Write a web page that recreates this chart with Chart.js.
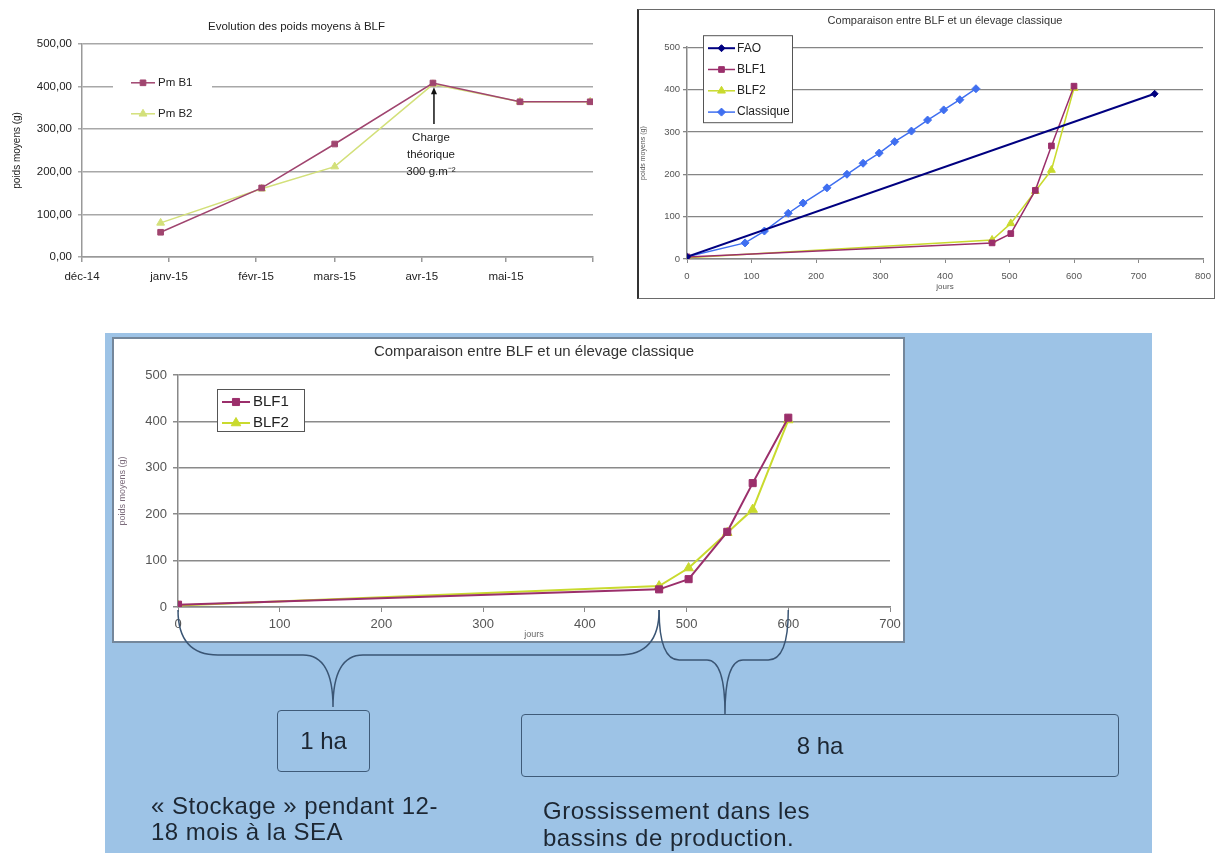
<!DOCTYPE html>
<html lang="fr">
<head>
<meta charset="utf-8">
<title>Poids moyens BLF</title>
<script src="https://cdn.jsdelivr.net/npm/chart.js@4.4.1/dist/chart.umd.min.js"></script>
<style>
  html, body { margin: 0; padding: 0; }
  body { width: 1216px; height: 853px; position: relative; overflow: hidden; background: #fff;
         font-family: 'Liberation Sans', Arial, sans-serif; }
  .abs { position: absolute; }
  canvas { display: block; }
  #wrap1 { left: 0; top: 0; width: 610px; height: 300px; }
  #wrap2 { left: 637px; top: 9px; width: 575px; height: 288px; border: 1px solid #6a6a6a; border-left: 2px solid #333; background: #fff; }
  #panel { left: 105px; top: 333px; width: 1047px; height: 520px; background: #9dc3e6; }
  #wrap3 { left: 112px; top: 337px; width: 789px; height: 302px; border: 2px solid #74879b; background: #fff; }
  #braces { left: 0; top: 0; width: 1216px; height: 853px; pointer-events: none; }
  .area { border: 1.5px solid #3f5b79; border-radius: 4px; box-sizing: border-box; display: flex;
          align-items: center; justify-content: center; font-size: 24px; color: #1d2733; }
  .note { font-size: 24px; letter-spacing: 0.5px; color: #1d2733; white-space: nowrap; }
</style>
</head>
<body>
<div id="wrap1" class="abs"><canvas id="c1" width="610" height="300"></canvas></div>
<div id="wrap2" class="abs"><canvas id="c2" width="575" height="288"></canvas></div>
<div id="panel" class="abs"></div>
<div id="wrap3" class="abs"><canvas id="c3" width="789" height="302"></canvas></div>
<svg id="braces" class="abs" xmlns="http://www.w3.org/2000/svg"></svg>
<div class="abs area" style="left:277px;top:710px;width:93px;height:62px;">1 ha</div>
<div class="abs area" style="left:521px;top:714px;width:598px;height:63px;">8 ha</div>
<div class="abs note" style="left:151px;top:793px;line-height:26px;">« Stockage » pendant 12-<br>18 mois à la SEA</div>
<div class="abs note" style="left:543px;top:797px;line-height:27px;">Grossissement dans les<br>bassins de production.</div>

<script>
// ---- Evolution des poids moyens (dates of weighing, grams) ----
const monthStarts = ['2014-12-01', '2015-01-01', '2015-02-01', '2015-03-01', '2015-04-01', '2015-05-01', '2015-06-01'];
const monthLabels = ['déc-14', 'janv-15', 'févr-15', 'mars-15', 'avr-15', 'mai-15', ''];
const weighDates  = ['2014-12-29', '2015-02-03', '2015-03-01', '2015-04-05', '2015-05-06', '2015-05-31'];
const pmB1 = [58, 162, 265, 408, 364, 364];
const pmB2 = [80, 160, 212, 405, 364, 364];
const chargeDate = '2015-04-05';
const chargeArrow = [312, 398];
const chargeText = ['Charge', 'théorique', '300 g.m\u207B\u00B2'];

// ---- Comparaison BLF / élevage classique (jours, grams) ----
const blfDays = [0, 473, 502, 540, 565, 600];
const blf1 = [5, 38, 60, 162, 267, 408];
const blf2 = [3, 45, 84, 160, 210, 403];
const faoDays = [0, 725];
const fao = [5, 390];
const classiqueDays = [0, 90, 120, 157, 180, 217, 248, 273, 298, 322, 348, 373, 398, 423, 448];
const classique = [5, 38, 66, 108, 132, 168, 200, 226, 250, 277, 302, 328, 352, 376, 402];

// Periods bracketed under the lower chart (jours)
const periodBounds = [0, 473, 600];

Chart.defaults.font.family = "'Liberation Sans', Arial, sans-serif";
Chart.defaults.color = '#333';

const DAY = 86400000;
const origin = Date.parse(monthStarts[0]);
const toDay = d => (Date.parse(d) - origin) / DAY;
const monthDays = monthStarts.map(toDay);

const C_B1 = '#9b2f6b';
const C_B2 = '#c9da2e';
const C_FAO = '#000080';
const C_CLASS = '#3f6ff0';

function series(label, xs, ys, color, style, radius, width, fill) {
  return {
    label,
    data: xs.map((x, i) => ({ x, y: ys[i] })),
    borderColor: color,
    backgroundColor: fill || color,
    pointBackgroundColor: fill || color,
    pointBorderColor: color,
    pointStyle: style,
    pointRadius: radius,
    pointHoverRadius: radius,
    pointBorderWidth: 1,
    borderWidth: width,
    tension: 0
  };
}

// Pin axis sizes so the plot area lands where wanted
function fixAxis(size, horizontal) {
  return scale => {
    if (horizontal) { scale.height = size; scale.paddingLeft = 0; scale.paddingRight = 0; }
    else { scale.width = size; scale.paddingTop = 0; scale.paddingBottom = 0; }
  };
}

// Legend drawn inside the plot area, with a white background
const insetLegend = {
  id: 'insetLegend',
  afterDraw(chart, args, o) {
    const { ctx, chartArea } = chart;
    const x0 = chartArea.left + o.dx, y0 = chartArea.top + o.dy;
    ctx.save();
    ctx.fillStyle = '#fff';
    ctx.fillRect(x0, y0, o.w, o.h);
    if (o.border) {
      ctx.strokeStyle = o.border; ctx.lineWidth = 1;
      ctx.strokeRect(x0 + 0.5, y0 + 0.5, o.w - 1, o.h - 1);
    }
    chart.data.datasets.forEach((ds, i) => {
      const y = y0 + o.rowTop + i * o.rowGap;
      const lx = x0 + o.lineX;
      ctx.strokeStyle = ds.borderColor; ctx.lineWidth = ds.borderWidth;
      ctx.beginPath(); ctx.moveTo(lx, y); ctx.lineTo(lx + o.lineLen, y); ctx.stroke();
      ctx.fillStyle = ds.pointBackgroundColor; ctx.strokeStyle = ds.pointBorderColor; ctx.lineWidth = 1;
      Chart.helpers.drawPoint(ctx, { pointStyle: ds.pointStyle, radius: ds.pointRadius, borderWidth: 1, rotation: 0 }, lx + o.lineLen / 2, y);
      ctx.fillStyle = o.color; ctx.font = o.font; ctx.textBaseline = 'middle'; ctx.textAlign = 'left';
      ctx.fillText(ds.label, x0 + o.textX, y);
    });
    ctx.restore();
  }
};

// Arrow + caption pointing at the theoretical load date
const chargeNote = {
  id: 'chargeNote',
  afterDraw(chart, args, o) {
    const { ctx, scales: { x, y } } = chart;
    const px = x.getPixelForValue(toDay(o.date)) + 1;
    const yTail = y.getPixelForValue(o.from), yTip = y.getPixelForValue(o.to);
    ctx.save();
    ctx.strokeStyle = '#111'; ctx.fillStyle = '#111'; ctx.lineWidth = 1.5;
    ctx.beginPath(); ctx.moveTo(px, yTail); ctx.lineTo(px, yTip + 5); ctx.stroke();
    ctx.beginPath(); ctx.moveTo(px, yTip); ctx.lineTo(px - 3, yTip + 7); ctx.lineTo(px + 3, yTip + 7); ctx.closePath(); ctx.fill();
    ctx.font = '11.5px "Liberation Sans", Arial, sans-serif';
    ctx.textAlign = 'center'; ctx.textBaseline = 'middle'; ctx.fillStyle = '#222';
    o.lines.forEach((t, i) => ctx.fillText(t, px - 3, yTail + 14 + i * 17));
    ctx.restore();
  }
};

// ---------- Chart 1 ----------
new Chart(document.getElementById('c1'), {
  type: 'line',
  data: {
    datasets: [
      series('Pm B1', weighDates.map(toDay), pmB1, '#a0456f', 'rect', 4, 1.5),
      series('Pm B2', weighDates.map(toDay), pmB2, '#d3e07a', 'triangle', 4.5, 1.5)
    ]
  },
  plugins: [insetLegend, chargeNote],
  options: {
    responsive: false, animation: false, events: [],
    layout: { padding: { left: 0, right: 17, top: 0, bottom: 0 } },
    plugins: {
      legend: { display: false }, tooltip: { enabled: false },
      title: { display: true, text: 'Evolution des poids moyens à BLF', color: '#222',
               font: { size: 11.5, weight: 'normal' }, padding: { top: 20, bottom: 10 } },
      insetLegend: { dx: 31, dy: 26, w: 99, h: 58, rowTop: 13, rowGap: 31, lineX: 18, lineLen: 24, textX: 45,
                     font: '11.5px "Liberation Sans", Arial, sans-serif', color: '#222' },
      chargeNote: { date: chargeDate, from: chargeArrow[0], to: chargeArrow[1], lines: chargeText }
    },
    scales: {
      x: {
        type: 'linear', min: monthDays[0], max: monthDays[monthDays.length - 1],
        afterBuildTicks: s => { s.ticks = monthDays.map(v => ({ value: v })); },
        ticks: { callback: (v, i) => monthLabels[i], autoSkip: false, maxRotation: 0, font: { size: 11.5 }, padding: 8, color: '#222' },
        grid: { drawOnChartArea: false, tickLength: 5, color: '#999', lineWidth: 1.5 },
        border: { color: '#999', width: 1.5 },
        afterFit: fixAxis(43, true)
      },
      y: {
        min: 0, max: 500,
        ticks: { stepSize: 100, callback: v => v.toFixed(2).replace('.', ','), font: { size: 11.5 }, padding: 6, color: '#222' },
        grid: { color: '#a8a8a8', lineWidth: 1.5, tickLength: 4 },
        border: { color: '#999', width: 1.5 },
        title: { display: true, text: 'poids moyens (g)', font: { size: 10 }, padding: { top: 11, bottom: 0 }, color: '#222' },
        afterFit: fixAxis(82, false)
      }
    }
  }
});

// ---------- Chart 2 ----------
new Chart(document.getElementById('c2'), {
  type: 'line',
  data: {
    datasets: [
      series('FAO', faoDays, fao, C_FAO, 'rectRot', 3.5, 2),
      series('BLF1', blfDays, blf1, C_B1, 'rect', 4, 1.5),
      series('BLF2', blfDays, blf2, C_B2, 'triangle', 4.5, 1.5),
      series('Classique', classiqueDays, classique, C_CLASS, 'rectRot', 4, 1.5)
    ]
  },
  plugins: [insetLegend],
  options: {
    responsive: false, animation: false, events: [],
    layout: { padding: { left: 0, right: 11, top: 0, bottom: 0 } },
    plugins: {
      legend: { display: false }, tooltip: { enabled: false },
      title: { display: true, fullSize: false, text: 'Comparaison entre BLF et un élevage classique', color: '#333',
               font: { size: 11, weight: 'normal' }, padding: { top: 4, bottom: 20 } },
      insetLegend: { dx: 16, dy: -12, w: 90, h: 88, rowTop: 13, rowGap: 21.3, lineX: 5, lineLen: 27, textX: 34,
                     border: '#555', font: '12px "Liberation Sans", Arial, sans-serif', color: '#222' }
    },
    scales: {
      x: {
        type: 'linear', min: 0, max: 800,
        ticks: { stepSize: 100, font: { size: 9.5 }, padding: 8, color: '#555', maxRotation: 0 },
        grid: { drawOnChartArea: false, tickLength: 4, color: '#888' },
        border: { color: '#888', width: 1.5 },
        title: { display: true, text: 'jours', font: { size: 8 }, padding: { top: 0, bottom: 6 }, color: '#555' },
        afterFit: fixAxis(39, true)
      },
      y: {
        min: 0, max: 500,
        ticks: { stepSize: 100, font: { size: 9.5 }, padding: 3, color: '#555' },
        grid: { color: '#858585', lineWidth: 1.3, tickLength: 4 },
        border: { color: '#888', width: 1.5 },
        title: { display: true, text: 'poids moyens (g)', font: { size: 7 }, padding: { top: 0, bottom: 0 }, color: '#555' },
        afterFit: fixAxis(48, false)
      }
    }
  }
});

// ---------- Chart 3 ----------
const chart3 = new Chart(document.getElementById('c3'), {
  type: 'line',
  data: {
    datasets: [
      series('BLF1', blfDays, blf1, C_B1, 'rect', 5, 2),
      series('BLF2', blfDays, blf2, C_B2, 'triangle', 5.5, 2)
    ]
  },
  plugins: [insetLegend],
  options: {
    responsive: false, animation: false, events: [],
    layout: { padding: { left: 0, right: 13, top: 0, bottom: 0 } },
    plugins: {
      legend: { display: false }, tooltip: { enabled: false },
      title: { display: true, fullSize: false, text: 'Comparaison entre BLF et un élevage classique', color: '#333',
               font: { size: 15, weight: 'normal' }, padding: { top: 4, bottom: 14 } },
      insetLegend: { dx: 39, dy: 14, w: 88, h: 43, rowTop: 13, rowGap: 21, lineX: 5, lineLen: 28, textX: 36,
                     border: '#555', font: '15px "Liberation Sans", Arial, sans-serif', color: '#222' }
    },
    scales: {
      x: {
        type: 'linear', min: 0, max: 700,
        ticks: { stepSize: 100, font: { size: 13 }, padding: 5, color: '#555', maxRotation: 0 },
        grid: { drawOnChartArea: false, tickLength: 5, color: '#888' },
        border: { color: '#888', width: 1.5 },
        title: { display: true, text: 'jours', font: { size: 9 }, padding: { top: 0, bottom: 1 }, color: '#666' },
        afterFit: fixAxis(34, true)
      },
      y: {
        min: 0, max: 500,
        ticks: { stepSize: 100, font: { size: 13 }, padding: 6, color: '#555' },
        grid: { color: '#8a8a8a', lineWidth: 1.5, tickLength: 5 },
        border: { color: '#888', width: 1.5 },
        title: { display: true, text: 'poids moyens (g)', font: { size: 9 }, padding: { top: 3, bottom: 0 }, color: '#7a6a7a' },
        afterFit: fixAxis(64, false)
      }
    }
  }
});

// ---------- Braces linking the periods to their areas ----------
(function drawBraces() {
  const rect = chart3.canvas.getBoundingClientRect();
  const sx = chart3.scales.x, sy = chart3.scales.y;
  const px = v => rect.left + sx.getPixelForValue(v);
  const yTop = rect.top + sy.getPixelForValue(0) + 3;
  function bracePath(xa, xb, yt, ym, xc, yc, re, rc) {
    return `M${xa},${yt} Q${xa},${ym} ${xa + re},${ym} L${xc - rc},${ym} Q${xc},${ym} ${xc},${yc} ` +
           `Q${xc},${ym} ${xc + rc},${ym} L${xb - re},${ym} Q${xb},${ym} ${xb},${yt}`;
  }
  const braces = [
    { a: periodBounds[0], b: periodBounds[1], ym: 655, xc: 333, yc: 707, re: 40, rc: 30 },
    { a: periodBounds[1], b: periodBounds[2], ym: 660, xc: 725, yc: 714, re: 20, rc: 18 }
  ];
  const svg = document.getElementById('braces');
  braces.forEach(b => {
    const p = document.createElementNS('http://www.w3.org/2000/svg', 'path');
    p.setAttribute('d', bracePath(px(b.a), px(b.b), yTop, b.ym, b.xc, b.yc, b.re, b.rc));
    p.setAttribute('fill', 'none');
    p.setAttribute('stroke', '#3a5574');
    p.setAttribute('stroke-width', '1.5');
    svg.appendChild(p);
  });
})();
</script>
</body>
</html>
